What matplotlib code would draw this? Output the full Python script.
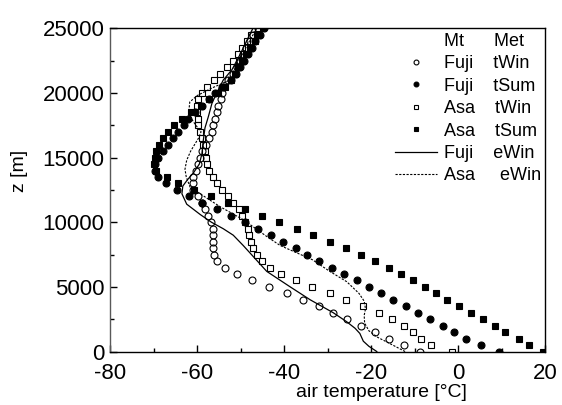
import numpy as np
import matplotlib
matplotlib.use("Agg")
import matplotlib.pyplot as plt
from matplotlib.lines import Line2D
from matplotlib.ticker import MultipleLocator

plt.rcParams["font.family"] = ["Liberation Sans", "DejaVu Sans"]
plt.rcParams["axes.unicode_minus"] = False

# heights of the tabulated profiles [m]
z_obs = [0, 500, 1000, 1500, 2000, 2500, 3000, 3500, 4000, 4500,
         5000, 5500, 6000, 6500, 7000, 7500, 8000, 8500, 9000, 9500,
         10000, 10500, 11000, 11500, 12000, 12500, 13000, 13500, 14000, 14500,
         15000, 15500, 16000, 16500, 17000, 17500, 18000, 18500, 19000, 19500,
         20000, 20500, 21000, 21500, 22000, 22500, 23000, 23500, 24000, 24500,
         25000]

fuji_twin = [-8.7, -12.4, -15.8, -19.1, -22.4, -25.6, -28.8, -32.1, -35.6, -39.4,
             -43.4, -47.3, -50.9, -53.7, -55.5, -56.1, -56.3, -56.3, -56.3, -56.4,
             -56.8, -57.4, -58.2, -58.9, -59.8, -60.9, -61.0, -60.9, -60.3, -59.7,
             -59.3, -58.8, -58.0, -57.2, -56.7, -56.3, -55.9, -55.5, -55.1, -54.6,
             -54.3, -53.9, -53.0, -51.8, -50.9, -50.1, -49.4, -48.8, -47.9, -47.2,
             -46.1]

fuji_tsum = [9.3, 5.2, 1.7, -0.9, -3.5, -6.4, -9.3, -12.0, -14.9, -17.7,
             -20.5, -23.3, -26.2, -29.0, -31.9, -34.7, -37.3, -40.2, -43.1, -45.9,
             -49.0, -52.2, -55.5, -58.8, -61.8, -64.7, -67.1, -68.9, -69.7, -69.7,
             -69.0, -67.8, -66.6, -65.5, -64.3, -63.1, -62.0, -60.6, -58.9, -57.3,
             -55.8, -54.3, -52.2, -51.0, -50.1, -49.3, -48.3, -47.4, -46.6, -45.5,
             -44.6]

asa_twin = [-1.5, -6.3, -8.6, -10.3, -12.4, -15.2, -18.3, -21.8, -25.7, -29.5,
            -33.5, -37.2, -40.7, -43.2, -45.1, -46.3, -47.2, -47.7, -48.0, -48.4,
            -48.9, -49.6, -50.4, -51.8, -52.8, -54.3, -55.5, -56.4, -57.2, -57.7,
            -58.0, -58.3, -58.6, -58.9, -59.3, -59.7, -59.9, -60.1, -60.1, -59.9,
            -58.9, -57.8, -56.1, -54.7, -53.2, -51.8, -50.7, -49.6, -48.6, -47.7,
            -46.0]

asa_tsum = [19.5, 16.4, 14.1, 10.8, 8.5, 5.8, 2.9, 0.3, -2.5, -5.1,
            -7.6, -10.3, -13.1, -16.0, -19.1, -22.4, -25.8, -29.5, -33.3, -37.1,
            -41.1, -45.0, -49.0, -53.0, -56.9, -60.7, -64.3, -67.0, -69.5, -69.9,
            -69.7, -69.4, -68.8, -67.9, -66.8, -65.4, -63.4, -61.3, -59.2, -57.2,
            -55.3, -53.7, -52.3, -51.3, -50.5, -49.7, -48.7, -47.8, -46.8, -45.9,
            -44.9]

# model profiles (continuous lines)
fuji_ewin_t = [-18.7, -20.5, -21.8, -22.6, -23.7, -25.6, -28.7, -34.0, -38.6, -44.0,
               -46.7, -49.4, -51.7, -54.0, -56.7, -59.3, -62.4, -63.5, -63.3, -62.2,
               -60.9, -59.5, -58.9, -58.6, -58.2, -57.4, -56.6, -55.5, -54.0, -52.0,
               -50.1, -47.8, -46.7]
fuji_ewin_z = [0, 400, 800, 1400, 1800, 2300, 3000, 4000, 5000, 6200,
               7200, 8200, 9000, 9500, 10000, 10600, 11400, 12200, 12800, 13300,
               13800, 14500, 15300, 16300, 17300, 18200, 19200, 20000, 21000, 21800,
               23000, 24600, 25300]

asa_ewin_t = [-12.2, -15.6, -18.5, -20.5, -21.5, -21.6, -21.3, -21.6, -22.8, -25.6,
              -29.5, -33.5, -40.9, -44.0, -49.4, -54.7, -59.3, -61.6, -62.5, -62.8,
              -62.4, -61.5, -60.6, -59.7, -59.1, -60.3, -61.3, -61.9, -61.7, -60.0,
              -56.5, -52.5, -49.8, -50.9, -49.6, -48.0, -46.3]
asa_ewin_z = [0, 600, 1100, 1600, 2200, 2800, 3300, 3900, 4500, 5400,
              6200, 7100, 8200, 8900, 10200, 11200, 12200, 12700, 13500, 14100,
              14800, 15500, 16000, 16500, 17000, 17500, 18000, 18600, 19300, 19800,
              20400, 21000, 21800, 22400, 23000, 24000, 25000]

fig = plt.figure(figsize=(5.62, 4.05), dpi=100)
ax = fig.add_axes([0.196, 0.132, 0.774, 0.798])

ms = 5.0
h1, = ax.plot(fuji_twin, z_obs, "o", ms=ms, mfc="none", mec="k", mew=0.8,
              label="Fuji    tWin")
h2, = ax.plot(fuji_tsum, z_obs, "o", ms=ms, mfc="k", mec="k", mew=0.8,
              label="Fuji    tSum")
h3, = ax.plot(asa_twin, z_obs, "s", ms=4.3, mfc="none", mec="k", mew=0.8,
              label="Asa    tWin")
h4, = ax.plot(asa_tsum, z_obs, "s", ms=4.3, mfc="k", mec="k", mew=0.8,
              label="Asa    tSum")
h5, = ax.plot(fuji_ewin_t, fuji_ewin_z, "-", color="k", lw=0.9,
              label="Fuji    eWin")
h6, = ax.plot(asa_ewin_t, asa_ewin_z, color="k", lw=0.8, ls=(0, (2.0, 1.3)),
              label="Asa     eWin")

ax.set_xlim(-80, 20)
ax.set_ylim(0, 25000)
ax.xaxis.set_major_locator(MultipleLocator(20))
ax.xaxis.set_minor_locator(MultipleLocator(10))
ax.yaxis.set_major_locator(MultipleLocator(5000))
ax.yaxis.set_minor_locator(MultipleLocator(2500))
ax.tick_params(which="both", direction="in", labelsize=16, top=False, right=False)
ax.tick_params(which="major", length=5, width=1)
ax.tick_params(which="minor", length=3, width=1)
ax.tick_params(axis="x", pad=8)
ax.tick_params(axis="y", pad=4)
for s in ax.spines.values():
    s.set_linewidth(1.0)
ax.spines["left"].set_color("0.35")

ax.set_xlabel("air temperature [°C]", fontsize=14)
ax.xaxis.set_label_coords(0.623, -0.10)
ax.set_ylabel("z [m]", fontsize=14)
ax.yaxis.set_label_coords(-0.19, 0.56)

# header row of the legend: a blank handle carrying the column names
header = Line2D([], [], ls="none", marker="none", label="Mt      Met")
ax.legend(handles=[header, h1, h2, h3, h4, h5, h6], loc="upper right",
          bbox_to_anchor=(1.0, 1.0), frameon=False, fontsize=13,
          handlelength=2.35, handletextpad=0.35, labelspacing=0.3,
          borderaxespad=0.1, borderpad=0.15, markerscale=0.7)

fig.savefig("out.png", dpi=100)
